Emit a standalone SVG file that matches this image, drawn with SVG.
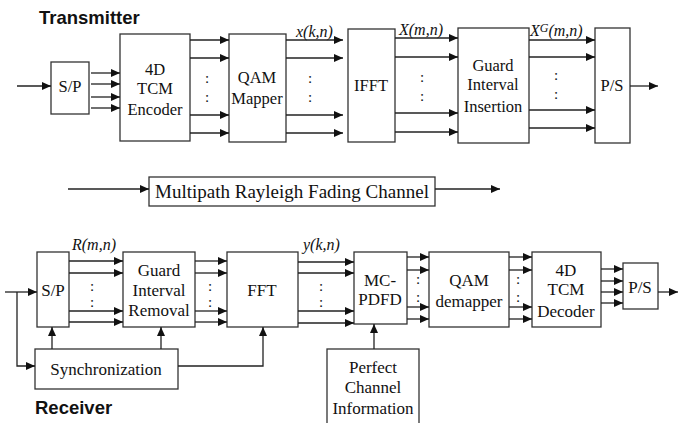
<svg xmlns="http://www.w3.org/2000/svg" width="678" height="423" viewBox="0 0 678 423">
<style>
.b{fill:#fff;stroke:#333;stroke-width:1.3}
.t{font-family:"Liberation Serif","Times New Roman",serif;font-size:16.5px;fill:#111;text-anchor:middle}
.t.r{font-size:17px}
.t.w{font-size:19px}
.i{font-family:"Liberation Serif","Times New Roman",serif;font-size:16px;font-style:italic;fill:#111}
.d{font-family:"Liberation Serif","Times New Roman",serif;font-size:15px;fill:#111;text-anchor:middle}
.h{font-family:"Liberation Sans",Arial,sans-serif;font-size:18.5px;font-weight:bold;fill:#111}
.c line,.c path{stroke:#222;stroke-width:1.3;fill:none}
.a{marker-end:url(#ar)}
</style>
<defs>
<marker id="ar" markerUnits="userSpaceOnUse" markerWidth="10" markerHeight="8" refX="9" refY="4" orient="auto">
<path d="M0,0 L9,4 L0,8 Z" fill="#111"/>
</marker>
</defs>
<text class="h" x="39" y="24">Transmitter</text>
<text class="h" x="35" y="414">Receiver</text>

<g id="tx_sp"><rect class="b" x="51" y="62" width="38" height="52"/><text class="t" x="70" y="92">S/P</text></g>
<g id="tx_enc"><rect class="b" x="120" y="34" width="70" height="107"/><text class="t" x="155" y="75">4D</text><text class="t" x="155" y="94">TCM</text><text class="t" x="155" y="115">Encoder</text></g>
<g id="tx_qam"><rect class="b" x="229" y="34" width="57" height="108"/><text class="t" x="257" y="83">QAM</text><text class="t" x="257" y="104">Mapper</text></g>
<g id="tx_ifft"><rect class="b" x="348" y="29" width="47" height="113"/><text class="t" x="371" y="91">IFFT</text></g>
<g id="tx_gi"><rect class="b" x="458" y="28" width="71" height="115"/><text class="t" x="493" y="71">Guard</text><text class="t" x="493" y="90">Interval</text><text class="t" x="493" y="112">Insertion</text></g>
<g id="tx_ps"><rect class="b" x="595" y="28" width="35" height="115"/><text class="t" x="612" y="91">P/S</text></g>

<g id="channel"><rect class="b" x="149" y="177" width="286" height="29"/><text class="t w" x="292" y="198">Multipath Rayleigh Fading Channel</text></g>

<g id="rx_sp"><rect class="b" x="37" y="252" width="32" height="75"/><text class="t r" x="53" y="296">S/P</text></g>
<g id="rx_gi"><rect class="b" x="123" y="252" width="72" height="75"/><text class="t r" x="159" y="276">Guard</text><text class="t r" x="159" y="296">Interval</text><text class="t r" x="159" y="316">Removal</text></g>
<g id="rx_sync"><rect class="b" x="35" y="349" width="143" height="40"/><text class="t r" x="106" y="375">Synchronization</text></g>
<g id="rx_fft"><rect class="b" x="227" y="252" width="71" height="75"/><text class="t r" x="262" y="296">FFT</text></g>
<g id="rx_mc"><rect class="b" x="354" y="252" width="53" height="72"/><text class="t r" x="380" y="286">MC-</text><text class="t r" x="380" y="305">PDFD</text></g>
<g id="rx_pci"><rect class="b" x="327" y="349" width="92" height="76"/><text class="t r" x="373" y="373">Perfect</text><text class="t r" x="373" y="393">Channel</text><text class="t r" x="373" y="414">Information</text></g>
<g id="rx_qam"><rect class="b" x="429" y="252" width="80" height="75"/><text class="t r" x="469" y="286">QAM</text><text class="t r" x="469" y="307">demapper</text></g>
<g id="rx_dec"><rect class="b" x="532" y="252" width="69" height="75"/><text class="t r" x="566" y="276">4D</text><text class="t r" x="566" y="295">TCM</text><text class="t r" x="566" y="317">Decoder</text></g>
<g id="rx_ps"><rect class="b" x="623" y="263" width="35" height="46"/><text class="t r" x="640" y="293">P/S</text></g>

<g id="connectors" class="c">
<line class="a" x1="17" y1="86" x2="51" y2="86"/>
<line class="a" x1="91" y1="73" x2="120" y2="73"/>
<line class="a" x1="91" y1="84" x2="120" y2="84"/>
<line class="a" x1="91" y1="97" x2="120" y2="97"/>
<line class="a" x1="91" y1="108" x2="120" y2="108"/>
<line class="a" x1="190" y1="40" x2="229" y2="40"/>
<line class="a" x1="190" y1="58" x2="229" y2="58"/>
<line class="a" x1="190" y1="115" x2="229" y2="115"/>
<line class="a" x1="190" y1="133" x2="229" y2="133"/>
<line class="a" x1="286" y1="40" x2="343" y2="40"/>
<line class="a" x1="286" y1="58" x2="343" y2="58"/>
<line class="a" x1="286" y1="115" x2="343" y2="115"/>
<line class="a" x1="286" y1="133" x2="343" y2="133"/>
<line class="a" x1="395" y1="38" x2="458" y2="38"/>
<line class="a" x1="395" y1="57" x2="458" y2="57"/>
<line class="a" x1="395" y1="113" x2="458" y2="113"/>
<line class="a" x1="395" y1="132" x2="458" y2="132"/>
<line class="a" x1="529" y1="40" x2="595" y2="40"/>
<line class="a" x1="529" y1="57" x2="595" y2="57"/>
<line class="a" x1="529" y1="110" x2="595" y2="110"/>
<line class="a" x1="529" y1="128" x2="595" y2="128"/>
<line class="a" x1="630" y1="86" x2="658" y2="86"/>

<line class="a" x1="68" y1="189" x2="149" y2="189"/>
<line class="a" x1="435" y1="189" x2="500" y2="189"/>

<line class="a" x1="5" y1="292" x2="37" y2="292"/>
<path class="a" d="M17,292 V366 H35"/>
<line class="a" x1="69" y1="261" x2="123" y2="261"/>
<line class="a" x1="69" y1="273" x2="123" y2="273"/>
<line class="a" x1="69" y1="311" x2="123" y2="311"/>
<line class="a" x1="69" y1="322" x2="123" y2="322"/>
<line class="a" x1="52" y1="349" x2="52" y2="327"/>
<line class="a" x1="161" y1="349" x2="161" y2="327"/>
<path class="a" d="M178,366 H263 V327"/>
<line class="a" x1="195" y1="261" x2="227" y2="261"/>
<line class="a" x1="195" y1="273" x2="227" y2="273"/>
<line class="a" x1="195" y1="311" x2="227" y2="311"/>
<line class="a" x1="195" y1="322" x2="227" y2="322"/>
<line class="a" x1="298" y1="262" x2="354" y2="262"/>
<line class="a" x1="298" y1="273" x2="354" y2="273"/>
<line class="a" x1="298" y1="311" x2="354" y2="311"/>
<line class="a" x1="298" y1="323" x2="354" y2="323"/>
<line class="a" x1="374" y1="349" x2="374" y2="324"/>
<line class="a" x1="407" y1="257" x2="429" y2="257"/>
<line class="a" x1="407" y1="270" x2="429" y2="270"/>
<line class="a" x1="407" y1="307" x2="429" y2="307"/>
<line class="a" x1="407" y1="319" x2="429" y2="319"/>
<line class="a" x1="509" y1="257" x2="532" y2="257"/>
<line class="a" x1="509" y1="270" x2="532" y2="270"/>
<line class="a" x1="509" y1="307" x2="532" y2="307"/>
<line class="a" x1="509" y1="319" x2="532" y2="319"/>
<line class="a" x1="601" y1="269" x2="623" y2="269"/>
<line class="a" x1="601" y1="281" x2="623" y2="281"/>
<line class="a" x1="601" y1="292" x2="623" y2="292"/>
<line class="a" x1="601" y1="303" x2="623" y2="303"/>
<line class="a" x1="658" y1="292" x2="678" y2="292"/>
</g>

<g id="labels">
<text class="i" x="296" y="37">x(k,n)</text>
<text class="i" x="399" y="35">X(m,n)</text>
<text class="i" x="530" y="36">X<tspan font-size="12" dy="-4">G</tspan><tspan dy="4">(m,n)</tspan></text>
<text class="i" x="72" y="250">R(m,n)</text>
<text class="i" x="303" y="250">y(k,n)</text>
</g>
<g id="dots">
<text class="d" x="207" y="83">:</text><text class="d" x="207" y="102">:</text>
<text class="d" x="310" y="83">:</text><text class="d" x="310" y="102">:</text>
<text class="d" x="422" y="82">:</text><text class="d" x="422" y="101">:</text>
<text class="d" x="556" y="80">:</text><text class="d" x="556" y="99">:</text>
<text class="d" x="92" y="291">:</text><text class="d" x="92" y="307">:</text>
<text class="d" x="210" y="291">:</text><text class="d" x="210" y="307">:</text>
<text class="d" x="321" y="291">:</text><text class="d" x="321" y="307">:</text>
<text class="d" x="418" y="284">:</text><text class="d" x="418" y="302">:</text>
<text class="d" x="518" y="284">:</text><text class="d" x="518" y="302">:</text>
</g>
</svg>
